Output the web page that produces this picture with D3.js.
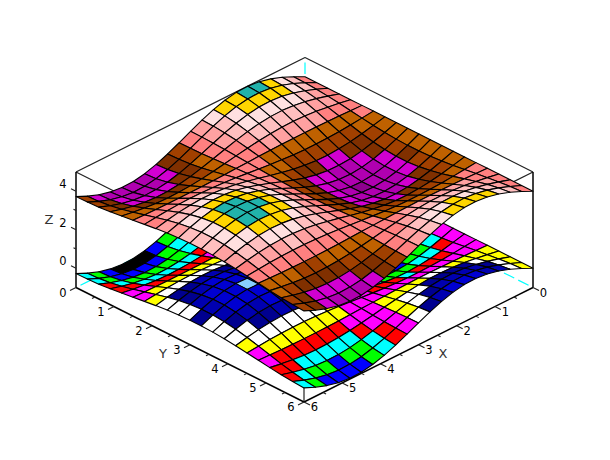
<!DOCTYPE html>
<html>
<head>
<meta charset="utf-8">
<script src="https://cdn.jsdelivr.net/npm/d3@7"></script>
<style>
  html, body { margin: 0; padding: 0; background: #fff; }
  text { font-family: "DejaVu Sans", sans-serif; }
</style>
</head>
<body>
<div id="chart"></div>
<script>
const xValues = [0, 0.3, 0.6, 0.9, 1.2, 1.5, 1.8, 2.1, 2.4, 2.7, 3, 3.3, 3.6, 3.9, 4.2, 4.5, 4.8, 5.1, 5.4, 5.7, 6];
const yValues = [0, 0.3, 0.6, 0.9, 1.2, 1.5, 1.8, 2.1, 2.4, 2.7, 3, 3.3, 3.6, 3.9, 4.2, 4.5, 4.8, 5.1, 5.4, 5.7, 6];

// one row per x value, one column per y value
const sheetZ = [
  [0, 0, 0, 0, 0, 0, 0, 0, 0, 0, 0, 0, 0, 0, 0, 0, 0, 0, 0, 0, 0],
  [.296, .282, .244, .184, .107, .021, -.067, -.149, -.218, -.267, -.293, -.292, -.265, -.215, -.145, -.062, .026, .112, .188, .247, .284],
  [.565, .539, .466, .351, .205, .040, -.128, -.285, -.416, -.510, -.559, -.558, -.506, -.410, -.277, -.119, .049, .213, .358, .471, .542],
  [.783, .748, .647, .487, .284, .055, -.178, -.395, -.578, -.708, -.775, -.774, -.702, -.569, -.384, -.165, .069, .296, .497, .654, .752],
  [.932, .890, .769, .579, .338, .066, -.212, -.471, -.687, -.843, -.923, -.920, -.836, -.677, -.457, -.196, .082, .352, .592, .778, .895],
  [.997, .953, .823, .620, .361, .071, -.227, -.504, -.736, -.902, -.988, -.985, -.895, -.724, -.489, -.210, .087, .377, .633, .833, .958],
  [.974, .930, .804, .605, .353, .069, -.221, -.492, -.718, -.880, -.964, -.962, -.873, -.707, -.477, -.205, .085, .368, .618, .813, .935],
  [.863, .825, .712, .537, .313, .061, -.196, -.436, -.637, -.780, -.855, -.852, -.774, -.627, -.423, -.182, .076, .326, .548, .721, .829],
  [.675, .645, .557, .420, .245, .048, -.153, -.341, -.498, -.611, -.669, -.667, -.606, -.490, -.331, -.142, .059, .255, .429, .564, .649],
  [.427, .408, .353, .266, .155, .030, -.097, -.216, -.315, -.386, -.423, -.422, -.383, -.310, -.210, -.090, .037, .162, .271, .357, .410],
  [.141, .135, .116, .088, .051, .010, -.032, -.071, -.104, -.128, -.140, -.139, -.127, -.102, -.069, -.030, .012, .053, .090, .118, .135],
  [-.158, -.151, -.130, -.098, -.057, -.011, .036, .080, .116, .143, .156, .156, .141, .115, .077, .033, -.014, -.060, -.100, -.132, -.151],
  [-.443, -.423, -.365, -.275, -.160, -.031, .101, .223, .326, .400, .438, .437, .397, .321, .217, .093, -.039, -.167, -.281, -.369, -.425],
  [-.688, -.657, -.568, -.428, -.249, -.049, .156, .347, .507, .622, .681, .679, .617, .499, .337, .145, -.060, -.260, -.437, -.574, -.660],
  [-.872, -.833, -.719, -.542, -.316, -.062, .198, .440, .643, .788, .863, .861, .782, .633, .427, .184, -.076, -.329, -.553, -.728, -.837],
  [-.978, -.934, -.807, -.608, -.354, -.069, .222, .494, .721, .884, .968, .965, .877, .710, .479, .206, -.086, -.369, -.620, -.816, -.939],
  [-.996, -.952, -.822, -.619, -.361, -.070, .226, .503, .735, .901, .986, .984, .893, .723, .488, .210, -.087, -.377, -.632, -.832, -.956],
  [-.926, -.884, -.764, -.575, -.335, -.065, .210, .467, .683, .837, .917, .914, .830, .672, .454, .195, -.081, -.350, -.588, -.773, -.889],
  [-.773, -.738, -.638, -.480, -.280, -.055, .176, .390, .570, .699, .765, .763, .693, .561, .379, .163, -.068, -.292, -.490, -.645, -.742],
  [-.551, -.526, -.455, -.342, -.200, -.039, .125, .278, .406, .498, .545, .544, .494, .400, .270, .116, -.048, -.208, -.350, -.460, -.529],
  [-.279, -.267, -.231, -.174, -.101, -.020, .063, .141, .206, .253, .277, .276, .251, .203, .137, .059, -.024, -.106, -.177, -.233, -.268],
];
// the upper sheet is the same surface lifted by 4
const sheetOffsets = [0, 4];

const xTicks = [0, 1, 2, 3, 4, 5, 6];
const yTicks = [0, 1, 2, 3, 4, 5, 6];
const zTicks = [0, 2, 4];
const xMinorTicks = [0.5, 1.5, 2.5, 3.5, 4.5, 5.5];
const yMinorTicks = [0.5, 1.5, 2.5, 3.5, 4.5, 5.5];
const zMinorTicks = [1, 3];

const colormap = [
  "#000000", "#0000ff", "#00ff00", "#00ffff", "#ff0000", "#ff00ff", "#ffff00", "#ffffff",
  "#00008f", "#0000b0", "#0000d1", "#87cfff", "#008f00", "#00b000", "#00d100", "#008f8f",
  "#00b0b0", "#00d1d1", "#8f0000", "#b00000", "#d10000", "#8f008f", "#b000b0", "#d100d1",
  "#803000", "#a14000", "#bf6100", "#ff8080", "#ffa1a1", "#ffbfbf", "#ffe0e0", "#ffd600",
  "#21b3ab",
];

const width = 610;
const height = 460;

const svg = d3.select("#chart").append("svg")
  .attr("width", width)
  .attr("height", height)
  .attr("viewBox", [0, 0, width, height])
  .style("display", "block");

// Oblique projection: x runs down-left, y down-right, z straight up
const xToLeft = d3.scaleLinear().domain([0, 6]).range([0, -229]);
const yToRight = d3.scaleLinear().domain([0, 6]).range([0, 228]);
const xToDown = d3.scaleLinear().domain([0, 6]).range([0, 114.5]);
const yToDown = d3.scaleLinear().domain([0, 6]).range([0, 114.5]);
const zToUp = d3.scaleLinear().domain([-1, 5]).range([173, 57.5]);

const project = (x, y, z) => [
  305 + xToLeft(x) + yToRight(y),
  zToUp(z) + xToDown(x) + yToDown(y),
];
const depth = (x, y, z) => 0.612 * (x + y) + 0.5 * z;

const allZ = sheetOffsets.flatMap((off) => sheetZ.flat().map((z) => z + off));
const colorIndex = d3.scaleLinear().domain(d3.extent(allZ)).range([0, colormap.length - 1]);

// Facets of both sheets, far ones first
const facets = [];
sheetOffsets.forEach((off) => {
  d3.range(xValues.length - 1).forEach((i) => {
    d3.range(yValues.length - 1).forEach((j) => {
      const corners = [[i, j], [i + 1, j], [i + 1, j + 1], [i, j + 1]].map(([a, b]) => ({
        x: xValues[a],
        y: yValues[b],
        z: sheetZ[a][b] + off,
      }));
      facets.push({
        corners,
        zMean: d3.mean(corners, (c) => c.z),
        order: d3.mean(corners, (c) => depth(c.x, c.y, c.z)),
      });
    });
  });
});
facets.sort((a, b) => a.order - b.order);

const boxLine = (from, to, stroke, strokeWidth) => {
  const a = project(...from);
  const b = project(...to);
  return svg.append("line")
    .attr("x1", a[0]).attr("y1", a[1])
    .attr("x2", b[0]).attr("y2", b[1])
    .attr("stroke", stroke)
    .attr("stroke-width", strokeWidth);
};

// Hidden back edges
[[[0, 0, 5], [0, 0, -1]], [[6, 0, -1], [0, 0, -1]], [[0, 6, -1], [0, 0, -1]]].forEach(([from, to]) => {
  boxLine(from, to, "#00ffff", 1.2)
    .attr("stroke-dasharray", "11.5 4.5")
    .attr("stroke-dashoffset", 11);
});

// Top rim and vertical edges
const rim = "#222";
boxLine([6, 0, 5], [0, 0, 5], rim, 1.2);
boxLine([0, 0, 5], [0, 6, 5], rim, 1.2);
boxLine([6, 0, 5], [6, 6, 5], rim, 1.2);
boxLine([0, 6, 5], [6, 6, 5], rim, 1.2);
boxLine([6, 6, 5], [6, 6, -1], rim, 1.2);
boxLine([6, 0, 5], [6, 0, -1], "#000", 1.5);
boxLine([0, 6, 5], [0, 6, -1], "#000", 1.5);

// Axis lines along the floor
boxLine([6, 0, -1], [6, 6, -1], "#000", 1.5);
boxLine([0, 6, -1], [6, 6, -1], "#000", 1.5);

const tick = (p, dx, dy) => svg.append("line")
  .attr("x1", p[0]).attr("y1", p[1])
  .attr("x2", p[0] + dx).attr("y2", p[1] + dy)
  .attr("stroke", "#222")
  .attr("stroke-width", 1.1);

const label = (p, dx, dy, text, size) => svg.append("text")
  .attr("x", p[0] + dx)
  .attr("y", p[1] + dy)
  .attr("dy", "0.36em")
  .attr("text-anchor", "middle")
  .attr("fill", "#000")
  .style("font-size", `${size}px`)
  .text(text);

xTicks.forEach((v) => {
  const p = project(v, 6, -1);
  tick(p, 6, 3);
  label(p, 10.5, 5, v, 11.5);
});
xMinorTicks.forEach((v) => tick(project(v, 6, -1), 3, 1.5));

yTicks.forEach((v) => {
  const p = project(6, v, -1);
  tick(p, -6, 3);
  label(p, -13, 5, v, 11.5);
});
yMinorTicks.forEach((v) => tick(project(6, v, -1), -3, 1.5));

zTicks.forEach((v) => {
  const p = project(6, 0, v);
  tick(p, -5, -2.5);
  label(p, -13, -7, v, 11.5);
});
zMinorTicks.forEach((v) => tick(project(6, 0, v), -2.5, -1.25));

label([443, 353], 0, 0, "X", 13).attr("fill", "#333");
label([163, 353], 0, 0, "Y", 13).attr("fill", "#333");
label([49, 219.5], 0, 0, "Z", 13).attr("fill", "#333");

// Surfaces
const quad = d3.line().curve(d3.curveLinearClosed);

svg.append("g")
  .selectAll("path")
  .data(facets)
  .join("path")
  .attr("d", (d) => quad(d.corners.map((c) => project(c.x, c.y, c.z))))
  .attr("fill", (d) => colormap[Math.round(colorIndex(d.zMean))])
  .attr("stroke", "#000")
  .attr("stroke-width", 1.1)
  .attr("stroke-linejoin", "round");
</script>
</body>
</html>
